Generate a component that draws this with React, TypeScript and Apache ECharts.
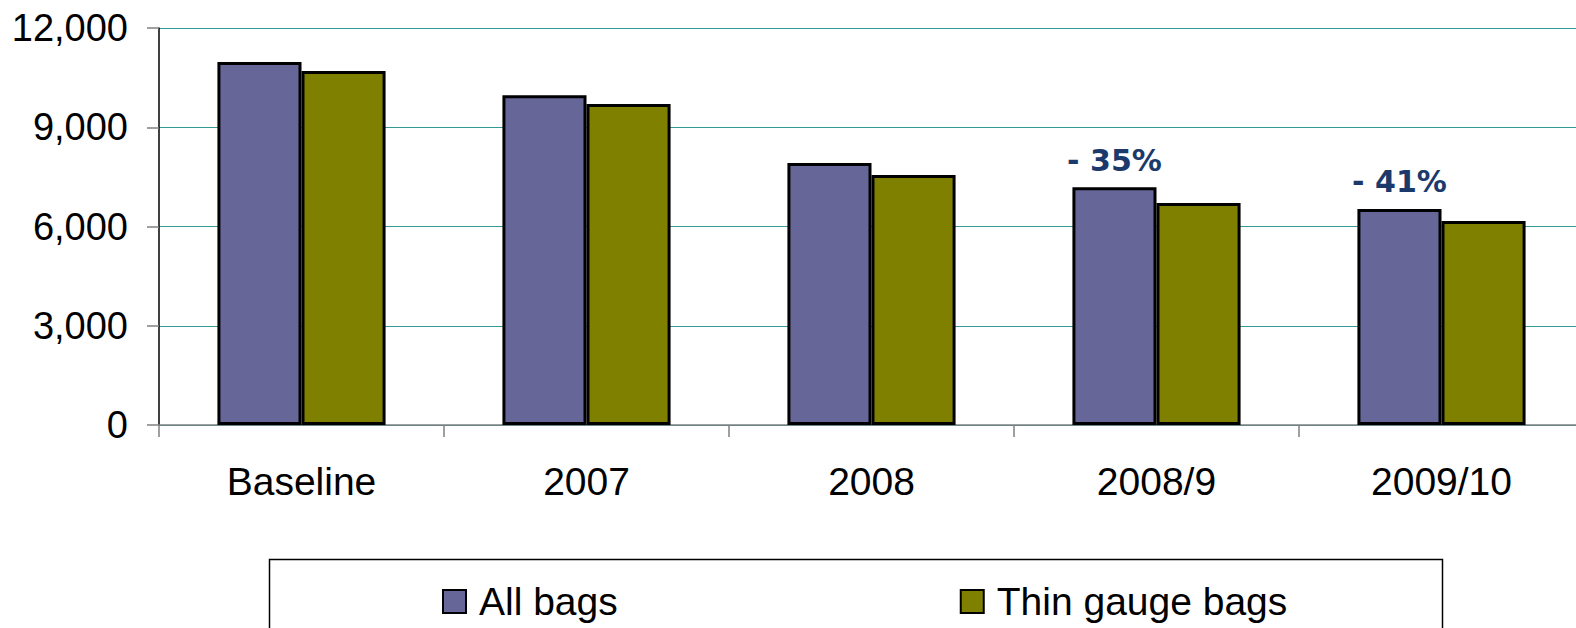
import React, { useEffect, useRef } from "react";
import * as echarts from "echarts";

const categories = ["Baseline", "2007", "2008", "2008/9", "2009/10"];
const allBags = [10970, 9970, 7920, 7190, 6530];
const thinBags = [10700, 9700, 7560, 6710, 6170];
const annotations = ["", "", "", "- 35%", "- 41%"];
const yTicks = [0, 3000, 6000, 9000, 12000];

export default function App() {
  const ref = useRef<HTMLDivElement>(null);
  useEffect(() => {
    if (!ref.current) return;
    const chart = echarts.init(ref.current, undefined, { renderer: "svg" });
    const fmt = (v: number) => v.toLocaleString("en-US");
    const font = "Liberation Sans, Arial, sans-serif";
    chart.setOption({
      animation: false,
      backgroundColor: "#ffffff",
      textStyle: { fontFamily: font },
      grid: { left: 159, top: 28, right: 0, bottom: 203, containLabel: false },
      xAxis: {
        type: "category",
        data: categories,
        axisLine: { show: true, lineStyle: { color: "#808080", width: 1.5 } },
        axisTick: { show: true, length: 12, inside: false, lineStyle: { color: "#808080", width: 1.5 } },
        axisLabel: { color: "#000", fontSize: 39, margin: 37, fontFamily: font },
      },
      yAxis: {
        type: "value",
        min: yTicks[0],
        max: yTicks[yTicks.length - 1],
        interval: yTicks[1] - yTicks[0],
        axisLine: { show: true, lineStyle: { color: "#000", width: 1.5 } },
        axisTick: { show: true, length: 12, lineStyle: { color: "#808080", width: 1.5 } },
        axisLabel: { color: "#000", fontSize: 38, margin: 31, formatter: fmt, fontFamily: font },
        splitLine: { show: true, lineStyle: { color: "#339999", width: 1.2 } },
      },
      legend: {
        show: true,
        left: 442,
        top: 582,
        padding: 0,
        itemWidth: 23,
        itemHeight: 23,
        itemGap: 342,
        icon: "rect",
        itemStyle: { borderColor: "#000", borderWidth: 2 },
        textStyle: { fontSize: 39, color: "#000", fontFamily: font, padding: [0, 0, 0, 8] },
        data: ["All bags", "Thin gauge bags"],
      },
      graphic: [
        {
          type: "rect",
          left: 267,
          top: 557,
          shape: { width: 1173, height: 100 },
          style: { fill: "none", stroke: "#000", lineWidth: 1.5 },
          z: -1,
        },
      ],
      series: [
        {
          name: "All bags",
          type: "bar",
          data: allBags,
          barGap: "0%",
          barCategoryGap: "41%",
          itemStyle: { color: "#666699", borderColor: "#000", borderWidth: 3 },
          label: {
            show: true,
            position: "top",
            distance: 12,
            formatter: (p: any) => annotations[p.dataIndex],
            color: "#1B3A6B",
            fontSize: 30,
            fontWeight: "bold",
            fontFamily: "DejaVu Sans, Verdana, sans-serif",
          },
        },
        {
          name: "Thin gauge bags",
          type: "bar",
          data: thinBags,
          itemStyle: { color: "#808000", borderColor: "#000", borderWidth: 3 },
        },
      ],
    });
    return () => chart.dispose();
  }, []);
  return (
    <div
      style={{ position: "absolute", left: 0, top: 0, width: 1576, height: 628, overflow: "hidden" }}
    >
      <div ref={ref} style={{ width: 1584, height: 628 }} />
    </div>
  );
}
